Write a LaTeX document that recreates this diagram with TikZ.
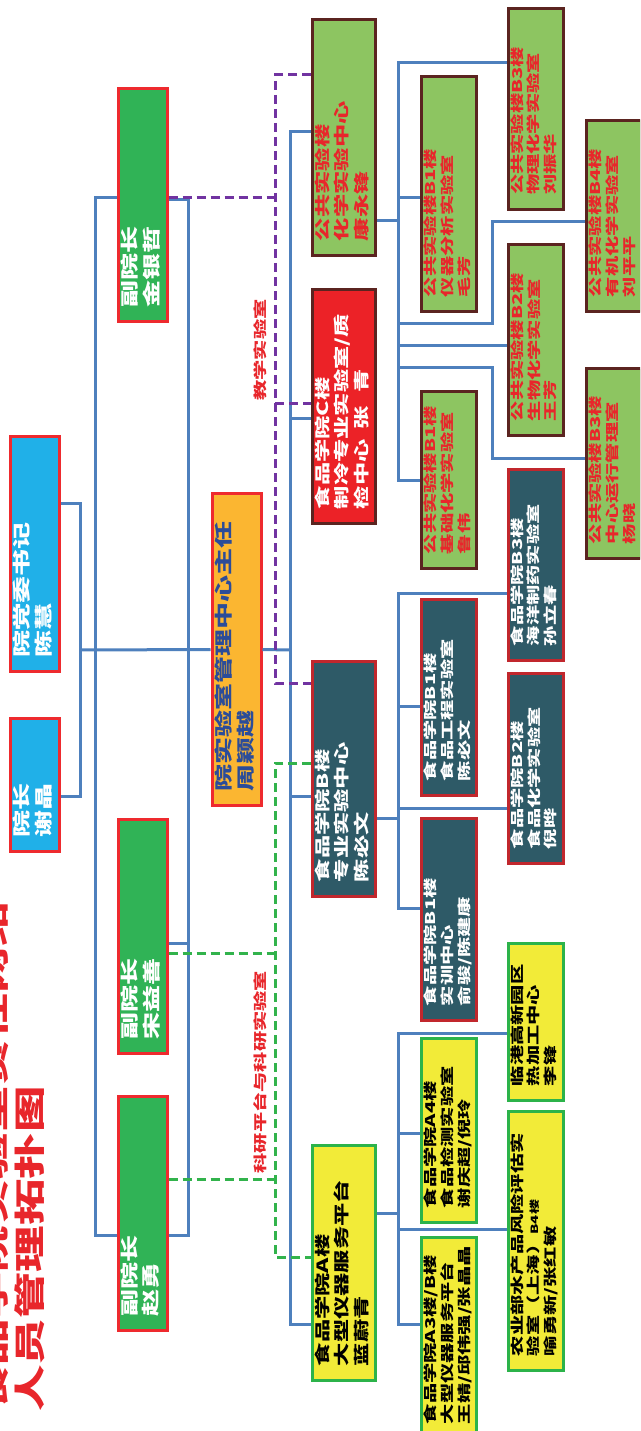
\documentclass[tikz,border=0pt]{standalone}
\usepackage{fontspec}
\usepackage{graphicx}
\newfontfamily\cjk{Noto Sans CJK SC}
\usetikzlibrary{positioning}

\definecolor{skyblue}{HTML}{20B0E8}
\definecolor{viceg}{HTML}{30B356}
\definecolor{rimred}{HTML}{EE2A2E}
\definecolor{hubfill}{HTML}{FBB631}
\definecolor{hubtext}{HTML}{2B4C99}
\definecolor{pubfill}{HTML}{8DC561}
\definecolor{pubrim}{HTML}{5B2420}
\definecolor{labred}{HTML}{E8262B}
\definecolor{cfill}{HTML}{EC2227}
\definecolor{tealfill}{HTML}{2E5A67}
\definecolor{tealrim}{HTML}{C1272D}
\definecolor{instfill}{HTML}{F2EB38}
\definecolor{instrim}{HTML}{2CB34A}
\definecolor{linkblue}{HTML}{4E80BD}
\definecolor{teachpurple}{HTML}{7133A1}
\definecolor{resgreen}{HTML}{32B34C}

% text of a box: left aligned, stretched along the line
\newcommand{\bx}[2]{\makebox[\dimexpr#1pt-32pt\relax][l]{\scalebox{1.5}[1]{\begin{tabular}{@{}l@{}}#2\end{tabular}}}}

\tikzset{
  card/.style={rotate=90, draw, line width=3pt, inner xsep=14.5pt, inner ysep=0pt},
  lead/.style={card, minimum height=49pt, draw=rimred, text=white,
    font=\cjk\bfseries\fontsize{18}{21}\selectfont},
  unit/.style={card, minimum height=63pt, draw=pubrim,
    font=\cjk\bfseries\fontsize{15.5}{19.5}\selectfont},
  lab/.style={card, minimum height=55pt, draw=pubrim,
    font=\cjk\bfseries\fontsize{13.5}{16.5}\selectfont},
  pub/.style={fill=pubfill, draw=pubrim, text=labred},
  food/.style={fill=tealfill, draw=tealrim, text=white},
  inst/.style={fill=instfill, draw=instrim, text=black},
  link/.style={draw=linkblue, line width=3pt},
  teach/.style={draw=teachpurple, line width=3pt, dash pattern=on 9pt off 5pt},
  res/.style={draw=resgreen, line width=3pt, dash pattern=on 9pt off 5pt},
  tag/.style={rotate=90, text=labred, inner sep=0pt,
    font=\cjk\bfseries\fontsize{13.5}{16}\selectfont}
}

\begin{document}
\begin{tikzpicture}[x=1pt, y=-1pt]
  \useasboundingbox (0,0) rectangle (640,1431);
  \clip (0,0) rectangle (640,1431);
  \fill[white] (0,0) rectangle (640,1431);

  % title
  \node[rotate=90, anchor=base west, inner sep=0pt, text=labred,
    font=\cjk\bfseries\fontsize{31}{29}\selectfont] (title) at (41,1412)
    {\scalebox{1.5}[1]{\begin{tabular}[b]{@{}l@{}}食品学院实验室责任网络\\人员管理拓扑图\end{tabular}}};

  % leaders
  \node[lead, fill=skyblue] (yz) at (34.5,785) {\bx{136}{院长\\谢晶}};
  \node[lead, fill=skyblue] (sj) at (35,554) {\bx{238}{院党委书记\\陈慧}};
  \node[lead, fill=viceg] (jin) at (142.5,205) {\bx{236}{副院长\\金银哲}};
  \node[lead, fill=viceg] (song) at (142.5,936.5) {\bx{237}{副院长\\宋益善}};
  \node[lead, fill=viceg] (zhao) at (142.5,1213.5) {\bx{237}{副院长\\赵勇}};
  \node[lead, fill=hubfill, text=hubtext] (hub) at (236.5,649.5) {\bx{315}{院实验室管理中心主任\\周颖越}};

  % centres
  \node[unit, pub] (kang) at (344,137.5) {\bx{239}{公共实验楼\\化学实验中心\\康永锋}};
  \node[unit, fill=cfill, text=white] (cbox) at (344,406.5) {\bx{237}{食品学院C楼\\制冷专业实验室/质\\检中心\hspace{0.4em}张\hspace{0.6em}青}};
  \node[unit, food] (bbox) at (344,779) {\bx{238}{食品学院B楼\\专业实验中心\\陈必文}};
  \node[unit, inst] (abox) at (344,1263) {\bx{238}{食品学院A楼\\大型仪器服务平台\\蓝蔚青}};

  % laboratories
  \node[lab, pub] (yiqi) at (449,194) {\bx{238}{公共实验楼B1楼\\仪器分析实验室\\毛芳}};
  \node[lab, pub] (jichu) at (449,480) {\bx{180}{公共实验楼B1楼\\基础化学实验室\\鲁伟}};
  \node[lab, food] (gongcheng) at (449,697.5) {\bx{199}{食品学院B1楼\\食品工程实验室\\陈必文}};
  \node[lab, food] (shixun) at (449,919.5) {\bx{205}{食品学院B1楼\\实训中心\\俞骏/陈建康}};
  \node[lab, inst] (afour) at (449,1130.5) {\bx{187}{食品学院A4楼\\食品检测实验室\\谢庆超/倪玲}};
  \node[lab, inst] (athree) at (449,1338) {\bx{204}{食品学院A3楼/B楼\\大型仪器服务平台\\王婧/邱伟强/张晶晶}};
  \node[lab, pub] (wuli) at (535.5,109) {\bx{204}{公共实验楼B3楼\\物理化学实验室\\刘振华}};
  \node[lab, pub] (shengwu) at (535.5,340) {\bx{194}{公共实验楼B2楼\\生物化学实验室\\王芳}};
  \node[lab, food] (haiyang) at (535.5,565) {\bx{194}{食品学院B3楼\\海洋制药实验室\\孙立春}};
  \node[lab, food] (huaxue) at (535.5,768.5) {\bx{193}{食品学院B2楼\\食品化学实验室\\倪晔}};
  \node[lab, inst] (lingang) at (535.5,1022) {\bx{160}{临港高新园区\\热加工中心\\李锋}};
  \node[lab, inst] (nongye) at (535.5,1241) {\bx{262}{农业部水产品风险评估实\\验室（上海）{\fontsize{10}{12}\selectfont B4楼}\\喻勇新/张红敏}};
  \node[lab, pub] (youji) at (614,216) {\bx{194}{公共实验楼B4楼\\有机化学实验室\\刘平平}};
  \node[lab, pub] (zhongxin) at (614,463.5) {\bx{193}{公共实验楼B3楼\\中心运行管理室\\杨晓}};

  % line labels
  \node[tag] (teachtag) at (260,350) {\scalebox{1.5}[1]{教学实验室}};
  \node[tag] (restag) at (260,1072) {\scalebox{1.5}[1]{科研平台与科研实验室}};

  % leadership lines
  \draw[link] (sj.south |- 0,503) -| (80,796) -- (yz.south |- 0,796);
  \draw[link] (80,650) -- (hub.north);
  \draw[link] (jin.north |- 0,198) -| (95,1235) -- (zhao.north |- 0,1235);
  \draw[link] (jin.south |- 0,200) -| (188,1235) -- (zhao.south |- 0,1235);
  \draw[link] (song.south |- 0,943) -- (188,943);
  \draw[link] (hub.south) -- (290,650);
  \draw[link] (kang.north |- 0,132) -| (290,1324) -- (abox.north |- 0,1324);
  \draw[link] (290,418) -- (cbox.north |- 0,418);
  \draw[link] (290,796) -- (bbox.north |- 0,796);

  % public building
  \draw[link] (kang.south |- 0,221) -- (398,221);
  \draw[link] (wuli.north |- 0,63) -| (398,480) -- (jichu.north |- 0,480);
  \draw[link] (398,198) -- (yiqi.north |- 0,198);
  \draw[link] (398,323) -| (492,222) -- (youji.north |- 0,222);
  \draw[link] (398,345) -- (shengwu.north |- 0,345);
  \draw[link] (398,367) -| (492,458) -- (zhongxin.north |- 0,458);

  % building B
  \draw[link] (bbox.south |- 0,818) -- (398,818);
  \draw[link] (haiyang.north |- 0,593) -| (398,908) -- (shixun.north |- 0,908);
  \draw[link] (398,706) -- (gongcheng.north |- 0,706);
  \draw[link] (398,808) -- (huaxue.north |- 0,808);

  % building A
  \draw[link] (abox.south |- 0,1213) -- (398,1213);
  \draw[link] (lingang.north |- 0,1033) -| (398,1324) -- (athree.north |- 0,1324);
  \draw[link] (398,1133) -- (afour.north |- 0,1133);
  \draw[link] (398,1229) -- (nongye.north |- 0,1229);

  % teaching and research
  \draw[teach] (jin.south |- 0,198) -- (275,198);
  \draw[teach] (kang.north |- 0,75) -| (275,683) -- (bbox.north |- 0,683);
  \draw[teach] (275,403) -- (cbox.north |- 0,403);
  \draw[res] (bbox.north |- 0,763) -| (275,1257) -- (abox.north |- 0,1257);
  \draw[res] (song.south |- 0,953) -- (275,953);
  \draw[res] (zhao.south |- 0,1179) -- (275,1179);
\end{tikzpicture}
\end{document}
